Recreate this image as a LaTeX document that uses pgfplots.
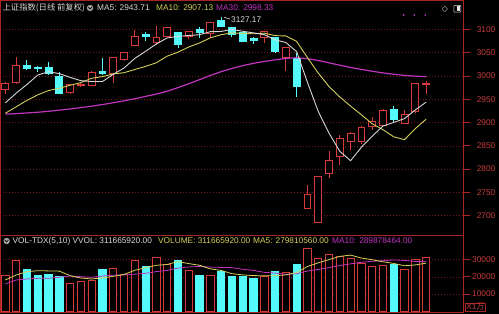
\documentclass[border=0pt]{standalone}
\usepackage{pgfplots}
\pgfplotsset{compat=1.18}
\usepackage{pgfplotstable}
\usetikzlibrary{arrows.meta}
\usepackage{fontspec}
\setmainfont{Liberation Sans}
\newfontfamily\cjk{Noto Sans CJK SC}
\newfontfamily\dejavu{DejaVu Sans}
\definecolor{candred}{RGB}{214,58,58}
\definecolor{candcyan}{RGB}{84,250,250}
\definecolor{frred}{RGB}{170,36,36}
\definecolor{gridred}{RGB}{120,24,24}
\definecolor{labred}{RGB}{200,60,60}
\definecolor{txt}{RGB}{215,215,215}
\definecolor{mac5}{RGB}{215,215,215}
\definecolor{mac10}{RGB}{212,208,90}
\definecolor{mac30}{RGB}{192,52,192}
\newcommand{\lab}{\fontsize{8.3bp}{9bp}\selectfont}

% i open high low close volume(x10^4)
\pgfplotstableread{
i o h l c v
0 2971.0 2987.0 2961.0 2984.39 20930
1 2985.4 3040.0 2983.0 3022.42 29420
2 3023.5 3034.0 3012.7 3017.04 24590
3 3017.5 3021.0 3009.0 3017.07 20930
4 3018.5 3029.0 3002.0 3004.94 21510
5 3000.0 3009.0 2961.0 2962.75 20350
6 2964.0 2983.0 2961.0 2982.68 16280
7 2980.5 2985.0 2977.0 2981.88 17620
8 2980.5 3011.0 2979.0 3007.35 18200
9 3009.0 3037.8 3003.0 3005.04 24590
10 3005.6 3041.0 2984.0 3040.02 25000
11 3036.0 3052.0 3032.6 3050.12 21690
12 3066.34 3098.10 3066.34 3085.20 29650
13 3089.02 3093.77 3074.52 3083.79 25930
14 3070.91 3107.20 3065.31 3083.41 31400
15 3085.49 3105.45 3084.33 3104.80 27500
16 3094.24 3094.24 3059.13 3066.89 29830
17 3084.5 3097.0 3080.0 3094.88 24010
18 3099.86 3105.28 3081.03 3092.29 21100
19 3091.70 3115.70 3081.41 3115.57 20930
20 3119.98 3127.17 3105.78 3106.82 23020
21 3104.38 3105.09 3082.75 3090.04 20350
22 3092.56 3093.04 3072.08 3074.08 20350
23 3081.09 3084.16 3069.44 3075.50 19190
24 3083.0 3095.84 3070.0 3095.79 20120
25 3082.38 3083.11 3051.72 3052.14 23430
26 3039.37 3062.19 3010.80 3060.75 22670
27 3037.95 3048.40 2955.13 2976.53 27330
28 2716.70 2766.0 2716.70 2746.61 36630
29 2685.27 2785.0 2685.27 2783.29 30810
30 2790.0 2838.0 2780.0 2818.09 32900
31 2826.6 2873.0 2809.0 2866.51 32000
32 2858.8 2880.0 2841.0 2875.96 31000
33 2858.8 2891.5 2854.0 2890.49 28100
34 2892.5 2912.5 2884.0 2901.67 26000
35 2894.6 2930.0 2893.0 2926.90 26800
36 2928.0 2935.4 2901.7 2906.07 27200
37 2898.3 2927.0 2897.0 2917.01 24300
38 2923.0 2984.5 2922.0 2983.62 30440
39 2982.6 2990.0 2961.0 2984.97 31166
}\kdata

\pgfplotstableread{
i ma5 ma10 ma30 vma5 vma10
0 2941.90 2919.83 2918.0 18200 15870
1 2962.92 2933.60 2919.0 21100 18200
2 2981.45 2947.49 2920.5 23020 18780
3 3001.72 2959.25 2922.0 23600 19190
4 3009.17 2968.55 2924.0 23476 19190
5 3004.84 2973.37 2926.5 23360 19770
6 2996.90 2979.91 2929.0 20732 20520
7 2989.86 2985.66 2932.0 19338 20120
8 2987.92 2994.82 2935.0 18792 19770
9 2987.94 2998.56 2938.5 19408 20500
10 3003.39 3004.12 2942.5 20338 21000
11 3016.88 3006.89 2946.5 21420 21076
12 3037.55 3013.71 2951.0 23826 21582
13 3052.83 3020.38 2956.0 25372 22082
14 3068.51 3028.22 2961.0 26734 23071
15 3081.46 3042.43 2967.0 27234 23786
16 3084.82 3050.85 2975.0 28862 25141
17 3086.75 3062.15 2983.0 27734 25780
18 3088.45 3070.64 2992.0 26768 26070
19 3094.89 3081.70 3001.0 24674 25704
20 3095.29 3088.38 3009.0 23778 25506
21 3099.92 3092.37 3016.0 21882 25372
22 3095.76 3091.26 3022.0 21150 24442
23 3092.40 3090.43 3027.0 20768 23768
24 3088.45 3091.67 3031.0 20606 22640
25 3077.51 3086.40 3034.5 20688 22233
26 3071.65 3085.79 3037.5 21152 21517
27 3052.14 3073.95 3039.0 22548 21849
28 2986.36 3039.38 3037.0 26036 23402
29 2923.86 3006.16 3033.0 28174 24390
30 2877.05 2977.28 3028.0 30068 25378
31 2838.21 2954.93 3023.0 31934 26543
32 2818.09 2935.12 3018.0 32668 27608
33 2846.87 2916.62 3014.0 30962 28499
34 2870.54 2897.20 3010.0 30000 29087
35 2892.31 2884.68 3006.5 28780 29424
36 2900.22 2869.21 3003.5 27820 29877
37 2908.43 2863.26 3001.0 26480 29574
38 2927.05 2886.96 2999.5 26956 28955
39 2943.71 2907.13 2998.33 27981 28988
}\madata

\pgfplotsset{
  cup/.style={draw=candred, fill=black, line width=0.8bp, line join=miter},
  cdown/.style={draw=candcyan, fill=candcyan, line width=0.8bp, line join=miter},
  wup/.style={draw=candred, line width=0.8bp},
  wdown/.style={draw=candcyan, line width=0.8bp},
  vup/.style={ybar, bar width=0.68, bar shift=0pt, draw=candred, fill=black, line width=0.8bp},
  vdown/.style={ybar, bar width=0.68, bar shift=0pt, draw=candcyan, fill=candcyan, line width=0.8bp},
  panel/.style={scale only axis, width=463.5bp, xmin=-0.4912, xmax=42.465, anchor=south west,
    axis line style={draw=frred, line width=0.8bp}, xtick=\empty, scaled y ticks=false,
    ytick pos=right, yticklabel pos=right, tick align=outside, major tick length=6bp,
    tick style={draw=frred, line width=0.8bp},
    yticklabel style={font=\lab, text=labred, anchor=east, inner sep=0pt, xshift=26bp},
    ymajorgrids, grid style={draw=gridred, line width=0.6bp, dash pattern=on 1bp off 2bp}},
}

\begin{document}
\begin{tikzpicture}
\path[use as bounding box, fill=black] (0bp,0bp) rectangle (499bp,314bp);

% ---------- price panel ----------
\begin{axis}[panel, at={(0bp,79bp)}, height=235bp, ymin=2658.6, ymax=3162.9,
  ytick={2700,2750,...,3100},
  yticklabels={2700,2750,2800,2850,2900,2950,3000,3050,3100}]
\pgfplotsforeachungrouped \k in {0,...,39}{%
  \pgfplotstablegetelem{\k}{o}\of\kdata \let\kO\pgfplotsretval
  \pgfplotstablegetelem{\k}{h}\of\kdata \let\kH\pgfplotsretval
  \pgfplotstablegetelem{\k}{l}\of\kdata \let\kL\pgfplotsretval
  \pgfplotstablegetelem{\k}{c}\of\kdata \let\kC\pgfplotsretval
  \pgfmathsetmacro\klo{min(\kO,\kC)}%
  \pgfmathsetmacro\khi{max(\kO,\kC)}%
  \pgfmathsetmacro\kxa{\k-0.32}%
  \pgfmathsetmacro\kxb{\k+0.32}%
  \ifdim\kC pt<\kO pt \def\ksty{cdown}\def\kw{wdown}\else\def\ksty{cup}\def\kw{wup}\fi
  \edef\kcmd{%
    \noexpand\addplot[\kw] coordinates {(\k,\kL) (\k,\klo)};
    \noexpand\addplot[\kw] coordinates {(\k,\khi) (\k,\kH)};
    \noexpand\addplot[\ksty] coordinates {(\kxa,\klo) (\kxb,\klo) (\kxb,\khi) (\kxa,\khi)} -- cycle;}%
  \kcmd
}
\addplot[mac30, line width=1.2bp] table[x=i,y=ma30]{\madata};
\addplot[mac10, line width=0.9bp] table[x=i,y=ma10]{\madata};
\addplot[mac5, line width=0.9bp] table[x=i,y=ma5]{\madata};
\addplot[only marks, mark=*, mark size=0.7bp, color=mac30] coordinates {(36.92,3130.7) (37.9,3130.7) (38.92,3130.7)};
\draw[txt, line width=0.6bp] (axis cs:20,3127.17) ++(3bp,-0.5bp) -- ++(6bp,-2bp)
  node[anchor=west, inner sep=0.8bp, text=txt, font=\lab] {3127.17};
\draw[txt, line width=0.6bp, {Stealth[length=2.5bp,width=2.5bp]}-] (axis cs:29,2685.27) ++(2bp,0) -- ++(6.5bp,0)
  node[anchor=west, inner sep=0.8bp, text=txt, font=\lab] {2685.27};
\end{axis}

% ---------- volume panel ----------
\begin{axis}[panel, at={(0bp,1.5bp)}, height=77.5bp, ymin=-698, ymax=44360,
  ytick={10000,20000,30000}, yticklabels={10000,20000,30000}]
\pgfplotsforeachungrouped \k in {0,...,39}{%
  \pgfplotstablegetelem{\k}{o}\of\kdata \let\kO\pgfplotsretval
  \pgfplotstablegetelem{\k}{c}\of\kdata \let\kC\pgfplotsretval
  \pgfplotstablegetelem{\k}{v}\of\kdata \let\kV\pgfplotsretval
  \ifdim\kC pt<\kO pt \def\ksty{vdown}\else\def\ksty{vup}\fi
  \edef\kcmd{\noexpand\addplot[\ksty] coordinates {(\k,\kV)};}%
  \kcmd
}
\addplot[mac30, line width=0.8bp] table[x=i,y=vma10]{\madata};
\addplot[mac10, line width=0.8bp] table[x=i,y=vma5]{\madata};
\end{axis}

% ---------- header texts ----------
\node[anchor=west, inner sep=0pt, text=txt, font=\lab] at (2.5bp,306bp) {\cjk 上证指数(日线 前复权)};
\fill[gray!75] (90bp,306bp) circle (3.2bp);
\draw[black, line width=0.7bp] (88.4bp,306.8bp) -- (90bp,305.2bp) -- (91.6bp,306.8bp);
\node[anchor=west, inner sep=0pt, text=mac5, font=\lab] at (97bp,306bp) {MA5: 2943.71};
\node[anchor=west, inner sep=0pt, text=mac10, font=\lab] at (156bp,306bp) {MA10: 2907.13};
\node[anchor=west, inner sep=0pt, text=mac30, font=\lab] at (216bp,306bp) {MA30: 2998.33};
\node[inner sep=0pt, text=txt, font={\dejavu\fontsize{8bp}{9bp}\selectfont}] at (445bp,305bp) {◇};
\draw[txt, line width=0.6bp, rounded corners=0.8bp] (453.8bp,301.8bp) rectangle (460.8bp,308.6bp);
\fill[txt!70] (457.3bp,302.6bp) rectangle (460bp,307.8bp);

\fill[gray!75] (6.7bp,73bp) circle (3.2bp);
\draw[black, line width=0.7bp] (5.1bp,73.8bp) -- (6.7bp,72.2bp) -- (8.3bp,73.8bp);
\node[anchor=west, inner sep=0pt, text=txt, font=\lab] at (12.5bp,73bp) {VOL-TDX(5,10) VVOL: 311665920.00};
\node[anchor=west, inner sep=0pt, text=mac10, font=\lab] at (158bp,73bp) {VOLUME: 311665920.00};
\node[anchor=west, inner sep=0pt, text=mac10, font=\lab] at (253bp,73bp) {MA5: 279810560.00};
\node[anchor=west, inner sep=0pt, text=mac30, font=\lab] at (332bp,73bp) {MA10: 289878464.00};

\node[draw=frred, line width=0.6bp, text=labred, font=\lab, inner sep=0.6bp] at (475.5bp,7bp) {X1{\cjk 万}};
\end{tikzpicture}
\end{document}
